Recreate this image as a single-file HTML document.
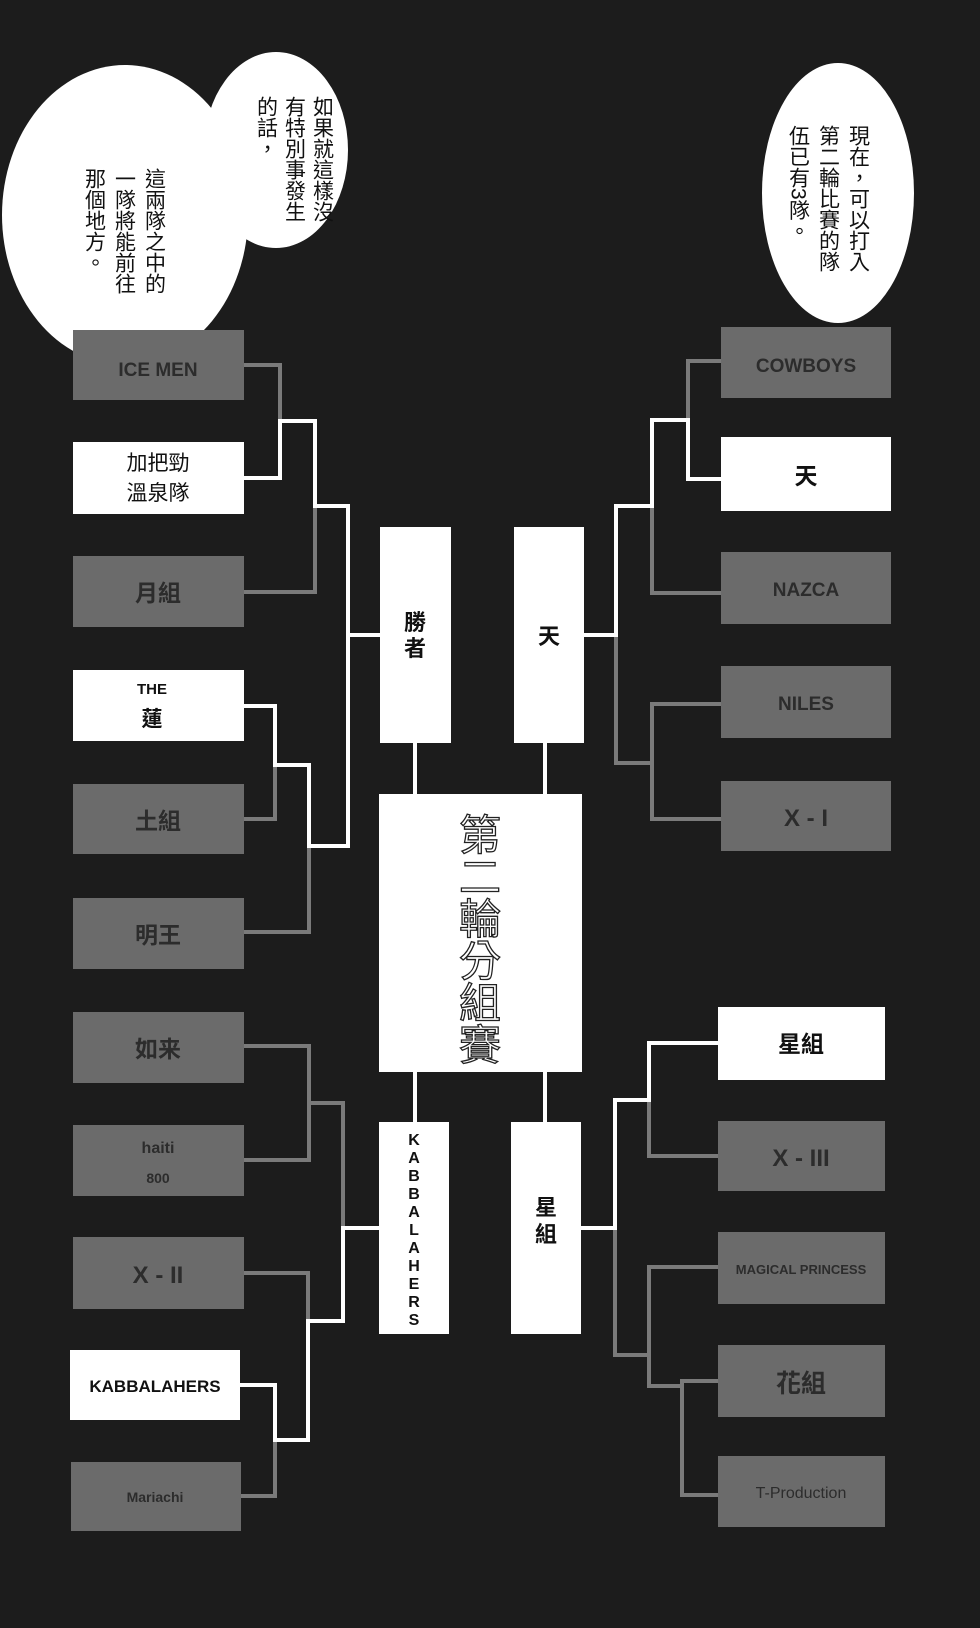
<!DOCTYPE html>
<html><head><meta charset="utf-8"><style>
html,body{margin:0;padding:0;background:#1c1c1c;}
svg{display:block}
text{font-family:"Liberation Sans","Noto Sans CJK TC",sans-serif;}
</style></head><body>
<svg width="980" height="1628" viewBox="0 0 980 1628" xmlns="http://www.w3.org/2000/svg">
<rect width="980" height="1628" fill="#1c1c1c"/>

<ellipse cx="125" cy="215" rx="123" ry="150" fill="#fff"/>
<ellipse cx="276" cy="150" rx="72" ry="98" fill="#fff"/>
<ellipse cx="838" cy="193" rx="76" ry="130" fill="#fff"/>

<g font-size="21" fill="#111">
<text x="322" y="96" style="writing-mode:tb">如果就這樣沒</text>
<text x="294" y="96" style="writing-mode:tb">有特別事發生</text>
<text x="266" y="96" style="writing-mode:tb">的話，</text>
<text x="154" y="168" style="writing-mode:tb">這兩隊之中的</text>
<text x="124" y="168" style="writing-mode:tb">一隊將能前往</text>
<text x="94" y="168" style="writing-mode:tb">那個地方。</text>
<text x="858" y="125" style="writing-mode:tb">現在，可以打入</text>
<text x="828" y="125" style="writing-mode:tb">第二輪比賽的隊</text>
<text x="798" y="125" style="writing-mode:tb">伍已有3隊。</text>
</g>

<g stroke="#7a7a7a" stroke-width="4" fill="none">
<polyline points="244,365 280,365 280,423"/>
<polyline points="244,592 315,592 315,507"/>
<polyline points="244,819 275,819 275,765"/>
<polyline points="244,932 309,932 309,846"/>
<polyline points="244,1046 309,1046 309,1160 244,1160"/>
<polyline points="309,1103 343,1103 343,1228"/>
<polyline points="244,1273 308,1273 308,1321"/>
<polyline points="240,1496 275,1496 275,1440"/>
<polyline points="721,361 688,361 688,479"/>
<polyline points="652,506 652,593 721,593"/>
<polyline points="616,635 616,763 652,763"/>
<polyline points="721,704 652,704 652,819 721,819"/>
<polyline points="718,1156 649,1156 649,1100"/>
<polyline points="615,1228 615,1355 649,1355"/>
<polyline points="718,1267 649,1267 649,1386 682,1386"/>
<polyline points="718,1381 682,1381 682,1495 718,1495"/>
</g>
<g stroke="#fff" stroke-width="4" fill="none">
<polyline points="244,478 280,478 280,421 315,421 315,506 348,506 348,846 309,846 309,765 275,765 275,706 244,706"/>
<polyline points="348,635 380,635"/>
<polyline points="240,1385 275,1385 275,1440 308,1440 308,1321 343,1321 343,1228 379,1228"/>
<polyline points="721,479 688,479 688,420 652,420 652,506 616,506 616,635 584,635"/>
<polyline points="718,1043 649,1043 649,1100 615,1100 615,1228 581,1228"/>
<line x1="415" y1="743" x2="415" y2="794"/>
<line x1="545" y1="743" x2="545" y2="794"/>
<line x1="415" y1="1072" x2="415" y2="1122"/>
<line x1="545" y1="1072" x2="545" y2="1122"/>
</g>

<g font-weight="bold" text-anchor="middle">
<rect x="73" y="330" width="171" height="70" fill="#6b6b6b"/>
<text x="158" y="376" font-size="19" fill="#2c2c2c">ICE MEN</text>
<rect x="73" y="442" width="171" height="72" fill="#fff"/>
<text x="158" y="470" font-size="21" font-weight="normal" fill="#111">加把勁</text>
<text x="158" y="500" font-size="21" font-weight="normal" fill="#111">溫泉隊</text>
<rect x="73" y="556" width="171" height="71" fill="#6b6b6b"/>
<text x="158" y="601" font-size="23" fill="#2c2c2c">月組</text>
<rect x="73" y="670" width="171" height="71" fill="#fff"/>
<text x="152" y="694" font-size="15" fill="#111">THE</text>
<text x="152" y="726" font-size="21" fill="#111">蓮</text>
<rect x="73" y="784" width="171" height="70" fill="#6b6b6b"/>
<text x="158" y="829" font-size="23" fill="#2c2c2c">土組</text>
<rect x="73" y="898" width="171" height="71" fill="#6b6b6b"/>
<text x="158" y="943" font-size="23" fill="#2c2c2c">明王</text>
<rect x="73" y="1012" width="171" height="71" fill="#6b6b6b"/>
<text x="158" y="1057" font-size="23" fill="#2c2c2c">如来</text>
<rect x="73" y="1125" width="171" height="71" fill="#6b6b6b"/>
<text x="158" y="1153" font-size="16" fill="#2c2c2c">haiti</text>
<text x="158" y="1183" font-size="14" fill="#2c2c2c">800</text>
<rect x="73" y="1237" width="171" height="72" fill="#6b6b6b"/>
<text x="158" y="1283" font-size="24" fill="#2c2c2c">X - II</text>
<rect x="70" y="1350" width="170" height="70" fill="#fff"/>
<text x="155" y="1392" font-size="17" fill="#111">KABBALAHERS</text>
<rect x="71" y="1462" width="170" height="69" fill="#6b6b6b"/>
<text x="155" y="1502" font-size="14" fill="#2c2c2c">Mariachi</text>

<rect x="721" y="327" width="170" height="71" fill="#6b6b6b"/>
<text x="806" y="372" font-size="19" fill="#2c2c2c">COWBOYS</text>
<rect x="721" y="437" width="170" height="74" fill="#fff"/>
<text x="806" y="484" font-size="23" fill="#111">天</text>
<rect x="721" y="552" width="170" height="72" fill="#6b6b6b"/>
<text x="806" y="596" font-size="19" fill="#2c2c2c">NAZCA</text>
<rect x="721" y="666" width="170" height="72" fill="#6b6b6b"/>
<text x="806" y="710" font-size="19" fill="#2c2c2c">NILES</text>
<rect x="721" y="781" width="170" height="70" fill="#6b6b6b"/>
<text x="806" y="826" font-size="24" fill="#2c2c2c">X - I</text>
<rect x="718" y="1007" width="167" height="73" fill="#fff"/>
<text x="801" y="1052" font-size="23" fill="#111">星組</text>
<rect x="718" y="1121" width="167" height="70" fill="#6b6b6b"/>
<text x="801" y="1166" font-size="24" fill="#2c2c2c">X - III</text>
<rect x="718" y="1232" width="167" height="72" fill="#6b6b6b"/>
<text x="801" y="1274" font-size="13" fill="#2c2c2c">MAGICAL PRINCESS</text>
<rect x="718" y="1345" width="167" height="72" fill="#6b6b6b"/>
<text x="801" y="1392" font-size="25" fill="#2c2c2c">花組</text>
<rect x="718" y="1456" width="167" height="71" fill="#6b6b6b"/>
<text x="801" y="1498" font-size="16" font-weight="normal" fill="#2c2c2c">T-Production</text>

<rect x="380" y="527" width="71" height="216" fill="#fff"/>
<text x="415" y="630" font-size="22" fill="#111">勝</text>
<text x="415" y="656" font-size="22" fill="#111">者</text>
<rect x="514" y="527" width="70" height="216" fill="#fff"/>
<text x="549" y="644" font-size="22" fill="#111">天</text>
<rect x="379" y="794" width="203" height="278" fill="#fff"/>
<g font-size="42" font-weight="normal" fill="#fff" stroke="#222" stroke-width="1.3">
<text x="480" y="850">第</text>
<text x="480" y="892">二</text>
<text x="480" y="934">輪</text>
<text x="480" y="976">分</text>
<text x="480" y="1018">組</text>
<text x="480" y="1060">賽</text>
</g>
<rect x="379" y="1122" width="70" height="212" fill="#fff"/>
<g font-size="16" fill="#111">
<text x="414" y="1145">K</text><text x="414" y="1163">A</text><text x="414" y="1181">B</text><text x="414" y="1199">B</text><text x="414" y="1217">A</text><text x="414" y="1235">L</text><text x="414" y="1253">A</text><text x="414" y="1271">H</text><text x="414" y="1289">E</text><text x="414" y="1307">R</text><text x="414" y="1325">S</text>
</g>
<rect x="511" y="1122" width="70" height="212" fill="#fff"/>
<text x="546" y="1215" font-size="22" fill="#111">星</text>
<text x="546" y="1242" font-size="22" fill="#111">組</text>
</g>
</svg>
</body></html>
